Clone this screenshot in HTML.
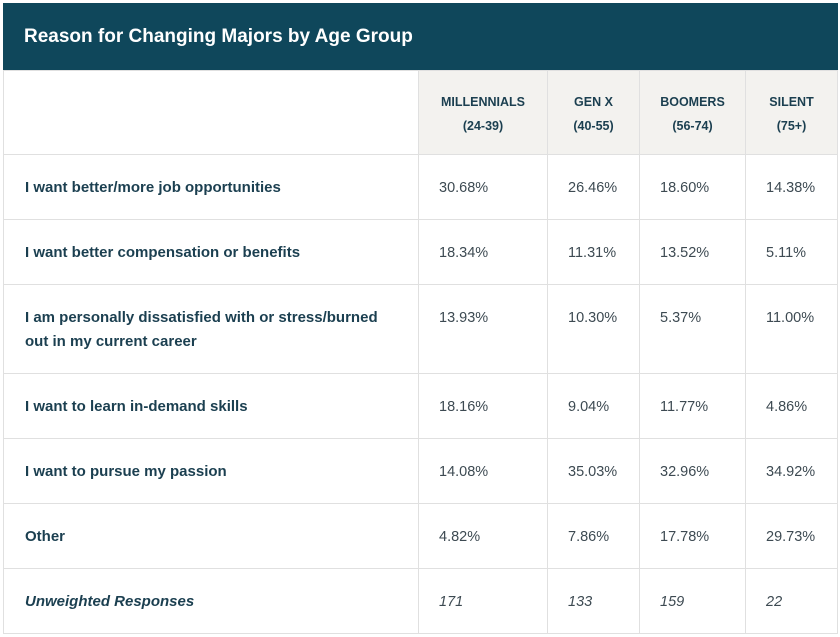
<!DOCTYPE html>
<html><head><meta charset="utf-8"><style>
body{margin:0;background:#fff;width:840px;height:637px;overflow:hidden;font-family:"Liberation Sans",sans-serif;color:#1b3f50}
.bar{position:absolute;left:3px;top:3px;width:835px;height:67px;background:#0f475b;color:#fff;font-weight:bold;font-size:19px;line-height:67px;padding-left:21px;box-sizing:border-box}
table{position:absolute;left:3px;top:70px;border-collapse:collapse;table-layout:fixed}
td{border:1px solid #e0e0e0;padding:0 0 0 20px;font-size:14.5px;vertical-align:top;box-sizing:border-box}
td.l{font-weight:bold;padding-left:21px;padding-right:30px;line-height:24px;font-size:15px}
td.v{color:#3d4a52;}
tr.h td{background:#f3f2ef;text-align:center;font-weight:bold;font-size:12.5px;line-height:24px;padding:19px 0 0;color:#1b3f50}
tr.h td:first-child{background:#fff}
tr.r td{height:65px;padding-top:25px}
tr.r td.l{padding-top:21px}
tr.t td{height:89px}
.i td{font-style:italic}
</style></head><body>
<div class="bar">Reason for Changing Majors by Age Group</div>
<table>
<colgroup><col style="width:415px"><col style="width:129px"><col style="width:92px"><col style="width:106px"><col style="width:92px"></colgroup>
<tr class="h" style="height:84px"><td></td><td>MILLENNIALS<br>(24-39)</td><td>GEN X<br>(40-55)</td><td>BOOMERS<br>(56-74)</td><td>SILENT<br>(75+)</td></tr>
<tr class="r"><td class="l">I want better/more job opportunities</td><td class="v">30.68%</td><td class="v">26.46%</td><td class="v">18.60%</td><td class="v">14.38%</td></tr>
<tr class="r"><td class="l">I want better compensation or benefits</td><td class="v">18.34%</td><td class="v">11.31%</td><td class="v">13.52%</td><td class="v">5.11%</td></tr>
<tr class="r t"><td class="l">I am personally dissatisfied with or stress/burned out in my current career</td><td class="v">13.93%</td><td class="v">10.30%</td><td class="v">5.37%</td><td class="v">11.00%</td></tr>
<tr class="r"><td class="l">I want to learn in-demand skills</td><td class="v">18.16%</td><td class="v">9.04%</td><td class="v">11.77%</td><td class="v">4.86%</td></tr>
<tr class="r"><td class="l">I want to pursue my passion</td><td class="v">14.08%</td><td class="v">35.03%</td><td class="v">32.96%</td><td class="v">34.92%</td></tr>
<tr class="r"><td class="l">Other</td><td class="v">4.82%</td><td class="v">7.86%</td><td class="v">17.78%</td><td class="v">29.73%</td></tr>
<tr class="r i"><td class="l">Unweighted Responses</td><td class="v">171</td><td class="v">133</td><td class="v">159</td><td class="v">22</td></tr>
</table>
</body></html>
